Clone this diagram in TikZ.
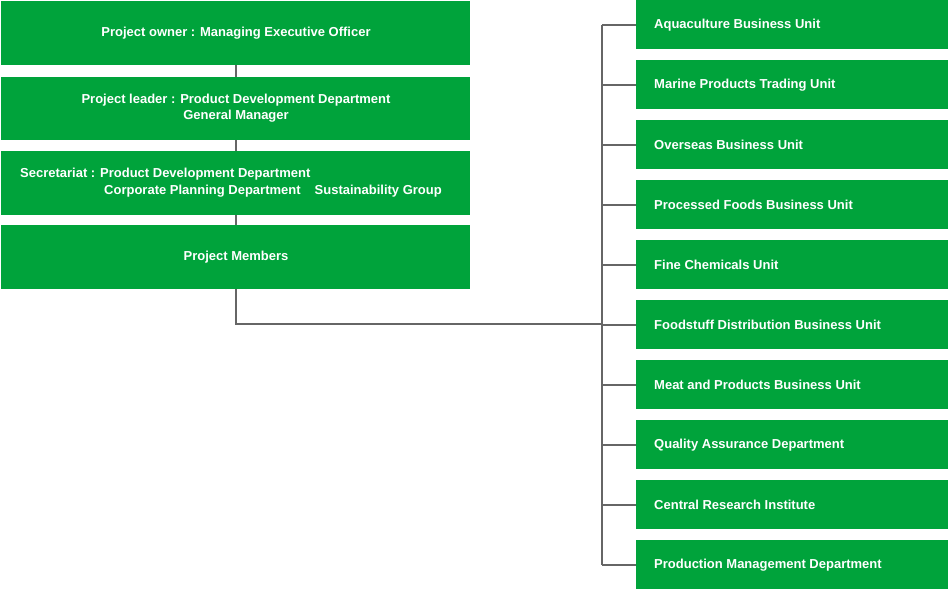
\documentclass[tikz,border=0pt]{standalone}
\usepackage{fontspec}
\setmainfont{Liberation Sans}
\begin{document}
\begin{tikzpicture}[x=1pt,y=-1pt,
  gbox/.style={fill=green!60!black, fill=boxg, draw=none, inner sep=0pt},
  lbl/.style={text=white, font=\bfseries\fontsize{13}{16}\selectfont, inner sep=0pt},
  ln/.style={draw=linegray, line width=1.3pt}]
\definecolor{boxg}{HTML}{00A33B}
\definecolor{linegray}{HTML}{666666}
\useasboundingbox (0,0) rectangle (950,590);
% connectors first
\coordinate (j) at (236,324);
\coordinate (vt) at (602,25);
\coordinate (vb) at (602,565);
\draw[ln] (236,33) -- (236,257);
\draw[ln] (236,257) -- (j) -- (602,324);
\draw[ln] (vt) -- (vb);
\foreach \i in {0,...,9} {\draw[ln] (602,{25+60*\i}) -- (636,{25+60*\i});}
% left boxes
\fill[boxg] (1,1) rectangle (470,65);
\node[lbl] (a) at (236,33) {Project owner : Managing Executive Officer};
\fill[boxg] (1,77) rectangle (470,140);
\node[lbl,align=center] (b) at (236,108) {Project leader : Product Development Department\\General Manager};
\fill[boxg] (1,151) rectangle (470,215);
\node[lbl,anchor=west] (c1) at (20,174) {Secretariat : Product Development Department};
\node[lbl,anchor=west] (c2) at (104,191) {Corporate Planning Department\hspace{14pt}Sustainability Group};
\fill[boxg] (1,225) rectangle (470,289);
\node[lbl] (d) at (236,257) {Project Members};
% right boxes
\foreach \t [count=\i from 0] in {Aquaculture Business Unit,Marine Products Trading Unit,Overseas Business Unit,Processed Foods Business Unit,Fine Chemicals Unit,Foodstuff Distribution Business Unit,Meat and Products Business Unit,Quality Assurance Department,Central Research Institute,Production Management Department} {
  \fill[boxg] (636,{60*\i}) rectangle (948,{60*\i+49});
  \node[lbl,anchor=west] (r\i) at (654,{60*\i+25}) {\t};
}
\end{tikzpicture}
\end{document}
